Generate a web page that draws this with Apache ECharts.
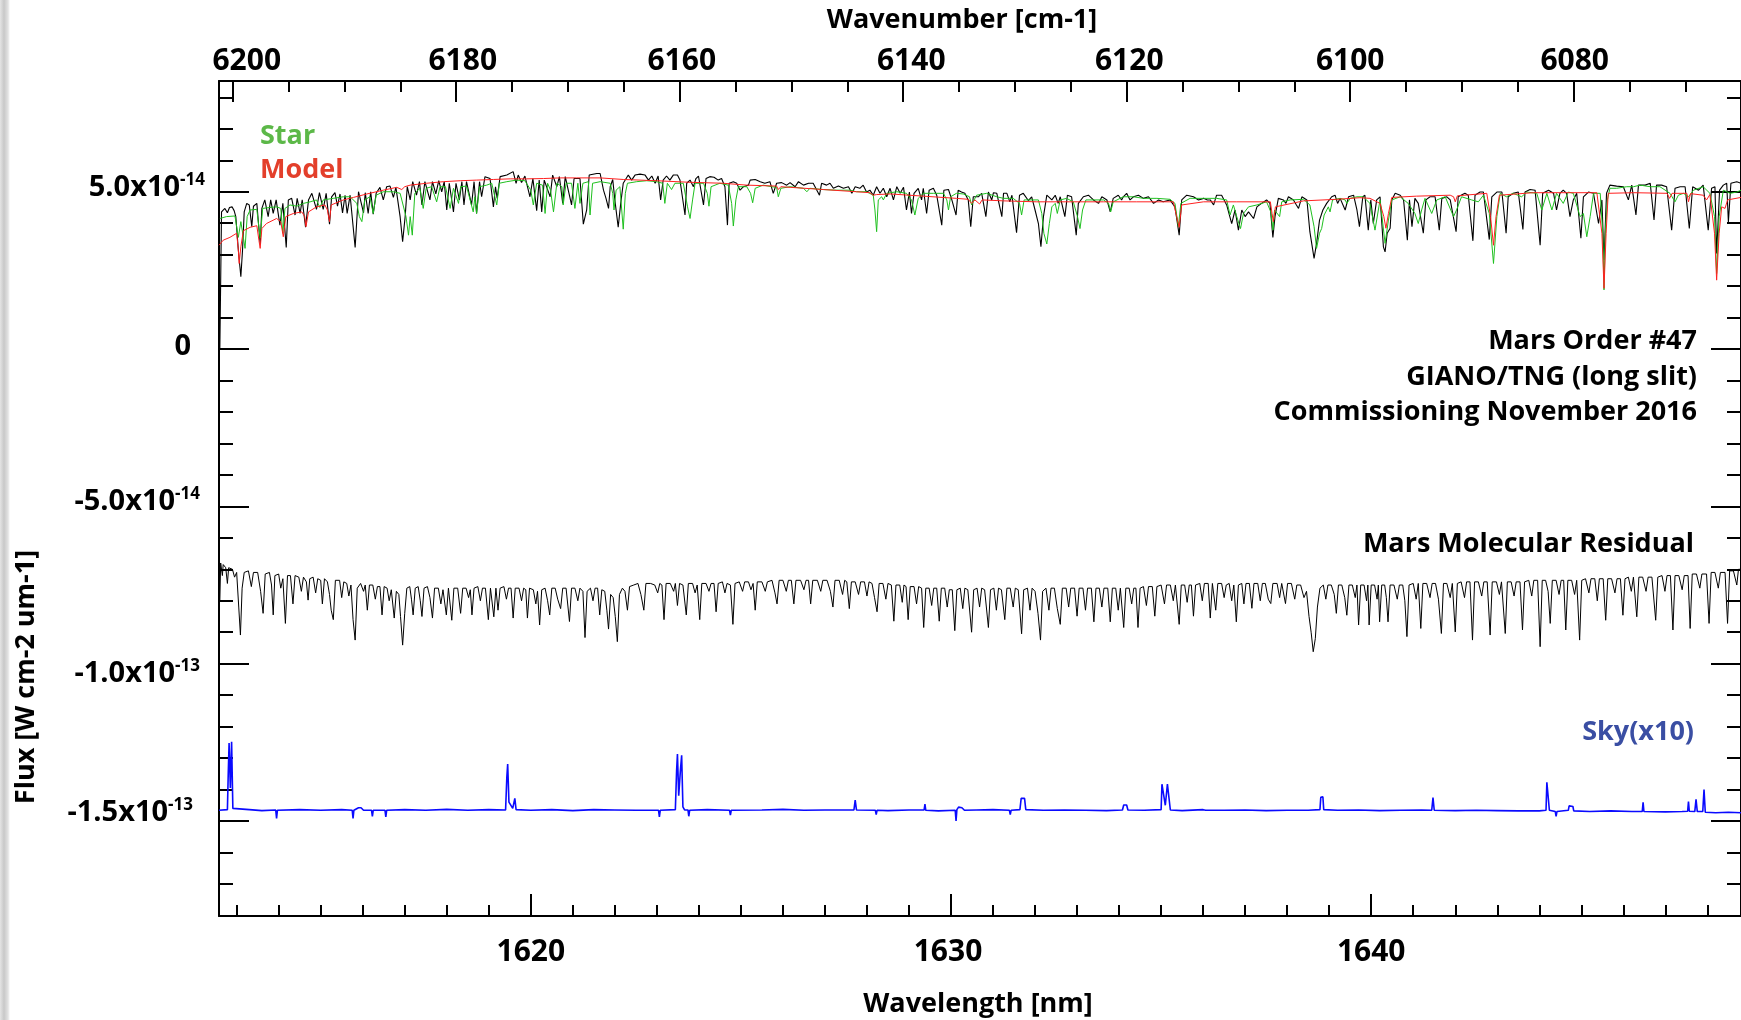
<!DOCTYPE html>
<html>
<head>
<meta charset="utf-8">
<script src="https://cdn.jsdelivr.net/npm/echarts@6/dist/echarts.min.js"></script>
<style>
html,body{margin:0;padding:0;background:#fff;}
#chart{width:1741px;height:1020px;}
</style>
</head>
<body>
<div id="chart"></div>
<script>
// ---------------- DATA ----------------
// wavelength in nm, flux in units of 1e-14 W cm-2 um-1
const wavelengthRange = [1612.58, 1648.80];
const wavenumberRange = [6065.03, 6201.23];
const fluxRange = [-18.02, 8.52];

const yTickValues   = [5, 0, -5, -10, -15];
const yTickMantissa = ['5.0x10', '0', '-5.0x10', '-1.0x10', '-1.5x10'];
const yTickExponent = ['-14', '', '-14', '-13', '-13'];
const topTickValues = [6200, 6180, 6160, 6140, 6120, 6100, 6080];
const bottomTickValues = [1620, 1630, 1640];

const seriesNames = ['Observed', 'Star', 'Model', 'Mars Molecular Residual', 'Sky(x10)'];

const observedSpectrum = [
[1612.60,0],[1612.64,4.36],[1612.72,4.47],[1612.78,4.33],[1612.83,4.50],[1612.89,4.52],[1612.94,4.40],[1612.98,4.21],[1613.04,3.15],[1613.10,2.30],[1613.14,3.15],[1613.18,4.36],[1613.24,4.63],[1613.30,4.58],[1613.36,3.89],[1613.40,4.54],[1613.48,4.63],[1613.56,3.34],[1613.60,4.47],[1613.67,4.74],[1613.75,4.21],[1613.81,4.74],[1613.87,4.31],[1613.94,4.74],[1614.03,3.94],[1614.10,4.63],[1614.18,3.23],[1614.23,4.74],[1614.31,4.79],[1614.39,4.26],[1614.44,4.79],[1614.51,4.31],[1614.56,4.74],[1614.64,3.87],[1614.71,4.74],[1614.79,4.95],[1614.90,4.44],[1614.97,4.97],[1615.06,4.44],[1615.13,4.95],[1615.21,3.97],[1615.26,4.84],[1615.34,4.97],[1615.40,4.54],[1615.46,4.93],[1615.52,4.33],[1615.58,4.89],[1615.63,4.31],[1615.70,4.89],[1615.82,3.23],[1615.90,5.00],[1616.02,4.33],[1616.06,4.97],[1616.13,4.31],[1616.19,5.00],[1616.25,4.29],[1616.32,4.95],[1616.41,5.14],[1616.49,4.74],[1616.57,5.16],[1616.65,5.18],[1616.73,4.82],[1616.79,5.14],[1616.89,4.21],[1616.95,3.41],[1617.01,4.21],[1617.06,5.16],[1617.13,4.74],[1617.19,5.32],[1617.28,4.89],[1617.35,5.32],[1617.41,4.58],[1617.48,5.32],[1617.60,4.74],[1617.66,5.32],[1617.74,4.93],[1617.81,5.35],[1617.88,5.00],[1617.94,5.32],[1618.00,4.42],[1618.06,5.27],[1618.16,4.36],[1618.22,5.27],[1618.30,4.74],[1618.36,5.32],[1618.41,4.58],[1618.47,5.32],[1618.59,4.58],[1618.65,5.32],[1618.71,4.31],[1618.78,5.32],[1618.83,4.84],[1618.91,5.48],[1619.03,5.42],[1619.11,4.52],[1619.16,5.16],[1619.20,4.79],[1619.27,5.48],[1619.43,5.53],[1619.58,5.64],[1619.65,5.27],[1619.70,5.53],[1619.78,5.29],[1619.86,5.50],[1619.98,4.84],[1620.05,5.42],[1620.14,4.40],[1620.20,5.37],[1620.26,4.36],[1620.32,5.37],[1620.46,4.84],[1620.52,5.53],[1620.62,5.16],[1620.68,5.48],[1620.76,4.63],[1620.82,5.48],[1620.97,4.58],[1621.03,5.42],[1621.17,5.42],[1621.25,3.97],[1621.33,4.42],[1621.39,5.53],[1621.57,5.58],
[1621.60,5.53],[1621.65,5.58],[1621.73,5.05],[1621.79,4.79],[1621.85,4.47],[1621.89,5.16],[1621.95,5.39],[1622.00,4.74],[1622.08,3.87],[1622.14,4.63],[1622.20,5.27],[1622.32,5.53],[1622.40,5.37],[1622.48,5.53],[1622.60,5.56],[1622.72,5.53],[1622.80,5.37],[1622.88,5.50],[1622.96,5.27],[1623.03,5.50],[1623.09,4.74],[1623.15,5.37],[1623.23,5.50],[1623.31,5.37],[1623.39,5.53],[1623.49,5.53],[1623.55,5.37],[1623.67,4.26],[1623.71,5.27],[1623.79,5.37],[1623.87,5.16],[1623.93,5.42],[1623.99,5.50],[1624.11,4.58],[1624.17,5.42],[1624.26,5.48],[1624.36,5.46],[1624.46,5.37],[1624.54,5.42],[1624.62,5.16],[1624.68,3.94],[1624.72,5.27],[1624.82,5.32],[1624.90,5.27],[1624.98,5.05],[1625.06,5.16],[1625.18,5.21],[1625.22,5.37],[1625.34,5.39],[1625.46,5.32],[1625.57,5.27],[1625.69,5.32],[1625.77,4.95],[1625.85,5.27],[1625.97,5.29],[1626.09,5.21],[1626.17,5.29],[1626.29,5.16],[1626.37,5.32],[1626.49,5.21],[1626.61,5.27],[1626.72,5.27],[1626.87,4.89],[1626.92,5.27],[1627.04,5.21],[1627.12,5.27],[1627.20,5.11],[1627.32,5.18],[1627.44,5.11],[1627.56,5.16],[1627.64,4.95],[1627.72,5.16],[1627.83,5.11],[1627.91,5.21],[1627.99,4.99],[1628.07,5.05],[1628.15,4.89],[1628.23,5.16],[1628.31,4.95],[1628.39,5.11],[1628.47,4.84],[1628.55,5.11],[1628.63,4.74],[1628.71,5.16],[1628.79,4.95],[1628.87,5.14],[1628.94,4.42],[1629.01,4.99],[1629.06,4.31],[1629.12,4.95],[1629.22,5.11],[1629.30,4.74],[1629.34,5.11],[1629.42,4.31],[1629.48,5.05],[1629.58,5.11],[1629.66,4.89],[1629.78,3.94],[1629.83,5.05],[1629.94,5.07],[1630.02,4.74],[1630.12,4.26],[1630.17,5.05],[1630.25,4.99],[1630.33,4.95],[1630.41,4.74],[1630.47,3.89],[1630.53,4.84],
[1630.57,4.89],[1630.65,4.84],[1630.73,4.95],[1630.83,4.21],[1630.89,4.99],[1630.97,4.74],[1631.01,4.97],[1631.09,4.95],[1631.21,4.21],[1631.25,4.95],[1631.33,4.95],[1631.40,4.68],[1631.45,4.89],[1631.56,3.70],[1631.63,4.89],[1631.72,4.95],[1631.84,4.72],[1631.92,4.84],[1632.00,4.42],[1632.08,3.99],[1632.14,3.25],[1632.20,4.21],[1632.28,4.89],[1632.40,4.74],[1632.48,4.89],[1632.55,4.63],[1632.60,4.84],[1632.71,4.21],[1632.77,4.89],[1632.87,4.84],[1632.98,3.62],[1633.03,4.63],[1633.15,4.84],[1633.27,4.89],[1633.39,4.74],[1633.51,4.63],[1633.59,4.84],[1633.71,4.74],[1633.79,4.36],[1633.86,4.79],[1633.98,4.89],[1634.06,4.74],[1634.10,4.84],[1634.18,4.95],[1634.26,4.74],[1634.34,4.84],[1634.46,4.89],[1634.58,4.79],[1634.70,4.84],[1634.82,4.63],[1634.94,4.74],[1635.05,4.68],[1635.21,4.74],[1635.33,4.52],[1635.43,3.62],[1635.49,4.74],[1635.61,4.89],[1635.77,4.84],[1635.89,4.74],[1636.01,4.79],[1636.10,4.74],[1636.17,4.74],[1636.25,4.58],[1636.32,4.89],[1636.44,4.89],[1636.56,4.58],[1636.68,3.99],[1636.76,4.42],[1636.84,3.78],[1636.92,4.42],[1637.00,4.21],[1637.08,4.36],[1637.20,4.15],[1637.28,4.52],[1637.39,4.63],[1637.51,4.74],[1637.59,4.63],[1637.66,3.55],[1637.71,4.21],[1637.79,4.79],[1637.91,4.74],[1637.97,4.63],[1638.03,4.84],[1638.15,4.74],[1638.22,4.58],[1638.27,4.47],[1638.35,4.84],[1638.47,4.74],[1638.54,3.73],[1638.64,2.88],[1638.70,3.36],[1638.77,4.10],[1638.85,4.42],[1638.94,4.63],[1639.06,4.84],[1639.14,4.89],[1639.20,4.63],[1639.26,4.79],[1639.38,4.42],[1639.46,4.84],[1639.58,4.89],[1639.66,4.42],[1639.72,3.89],
[1639.80,4.84],[1639.85,4.89],[1639.93,3.78],[1639.99,4.74],[1640.05,3.99],[1640.13,4.74],[1640.21,4.84],[1640.29,3.25],[1640.33,3.09],[1640.38,3.68],[1640.45,3.84],[1640.49,4.74],[1640.57,4.95],[1640.69,4.89],[1640.77,4.74],[1640.86,3.46],[1640.91,4.74],[1640.97,3.89],[1641.04,4.79],[1641.12,4.63],[1641.24,3.68],[1641.30,4.74],[1641.40,4.84],[1641.52,4.84],[1641.62,3.78],[1641.68,4.79],[1641.80,4.84],[1641.88,4.74],[1642.02,3.73],[1642.07,4.84],[1642.23,4.95],[1642.31,4.89],[1642.42,3.44],[1642.47,4.89],[1642.59,4.99],[1642.67,4.99],[1642.81,3.48],[1642.87,4.84],[1642.99,4.99],[1643.11,4.99],[1643.21,3.68],[1643.26,4.84],[1643.38,4.95],[1643.50,4.99],[1643.61,3.80],[1643.66,4.99],[1643.78,5.07],[1643.90,5.05],[1644.02,3.30],[1644.08,4.95],[1644.22,5.05],[1644.34,4.95],[1644.41,4.42],[1644.49,4.95],[1644.57,5.05],[1644.65,4.95],[1644.73,4.21],[1644.81,4.74],[1644.89,4.95],[1644.99,3.52],[1645.05,4.84],[1645.17,4.99],[1645.29,4.95],[1645.41,3.99],[1645.49,4.74],[1645.54,2.83],[1645.60,4.95],[1645.68,5.21],[1645.84,5.18],[1646.00,5.16],[1646.12,4.74],[1646.20,5.21],[1646.30,4.26],[1646.36,5.21],[1646.52,5.21],[1646.64,5.27],[1646.73,4.10],[1646.79,5.21],[1646.91,5.21],[1647.03,5.16],[1647.15,3.78],[1647.23,5.11],[1647.35,5.16],[1647.47,5.16],[1647.57,3.83],[1647.65,5.16],[1647.79,5.05],[1647.90,5.21],[1648.02,3.78],[1648.10,5.11],[1648.18,5.16],[1648.22,3.04],[1648.29,5.05],[1648.38,5.21],[1648.46,5.27],[1648.50,4.04],[1648.56,5.27],[1648.70,5.32],[1648.80,5.27]
];

const starSpectrum = [
[1612.60,4.15],[1612.76,4.21],[1612.96,4.23],[1613.04,3.55],[1613.10,4.05],[1613.20,3.20],[1613.25,4.21],[1613.32,4.42],[1613.48,4.44],[1613.56,3.52],[1613.62,4.47],[1613.79,4.50],[1613.95,4.52],[1614.05,4.47],[1614.10,3.68],[1614.15,4.47],[1614.27,4.58],[1614.43,4.54],[1614.59,4.63],[1614.75,4.68],[1614.90,4.74],[1614.98,4.50],[1615.06,4.74],[1615.30,4.79],[1615.54,4.84],[1615.70,4.84],[1615.86,4.63],[1615.92,4.21],[1615.98,4.05],[1616.05,4.74],[1616.17,4.84],[1616.25,4.31],[1616.32,4.89],[1616.49,5.00],[1616.73,5.00],[1616.89,4.95],[1617.03,4.21],[1617.09,3.62],[1617.13,4.21],[1617.18,3.62],[1617.24,4.95],[1617.36,5.11],[1617.44,4.47],[1617.51,5.11],[1617.64,5.16],[1617.76,4.68],[1617.84,5.16],[1617.97,5.16],[1618.08,4.47],[1618.16,5.11],[1618.28,4.63],[1618.33,5.16],[1618.47,5.18],[1618.63,4.36],[1618.67,4.84],[1618.71,4.31],[1618.78,5.16],[1618.95,5.21],[1619.07,5.27],[1619.19,4.58],[1619.25,5.27],[1619.43,5.32],[1619.66,5.37],[1619.86,5.35],[1620.00,5.05],[1620.06,4.58],[1620.14,5.27],[1620.28,5.21],[1620.34,4.31],[1620.40,5.27],[1620.47,5.05],[1620.54,4.36],[1620.62,5.27],[1620.74,5.16],[1620.77,4.58],[1620.84,5.27],[1620.97,5.27],[1621.05,4.47],[1621.12,5.27],[1621.17,4.63],[1621.24,5.27],[1621.37,5.32],
[1621.41,4.26],[1621.47,5.27],[1621.65,5.32],[1621.89,5.27],[1621.95,4.95],[1621.98,4.42],[1622.03,5.05],[1622.12,5.16],[1622.20,3.81],[1622.25,4.95],[1622.30,5.27],[1622.52,5.32],[1622.76,5.35],[1622.99,5.32],[1623.14,5.27],[1623.19,4.63],[1623.25,5.27],[1623.35,5.07],[1623.43,5.27],[1623.63,5.27],[1623.73,4.52],[1623.79,4.15],[1623.85,4.74],[1623.91,5.27],[1624.11,5.27],[1624.20,4.95],[1624.24,4.54],[1624.29,5.16],[1624.50,5.27],[1624.70,5.21],[1624.78,4.63],[1624.82,3.91],[1624.88,4.74],[1624.94,5.16],[1625.14,5.16],[1625.23,4.95],[1625.28,4.65],[1625.34,5.11],[1625.53,5.21],[1625.73,5.16],[1625.85,5.14],[1625.89,4.84],[1625.95,5.11],[1626.17,5.16],[1626.49,5.11],[1626.57,5.00],[1626.64,5.11],[1626.96,5.07],[1627.28,5.05],[1627.60,5.05],[1627.75,5.00],[1627.99,5.00],[1628.15,4.89],[1628.19,4.42],[1628.23,3.73],[1628.27,4.74],[1628.35,4.84],[1628.39,4.74],[1628.47,4.95],[1628.71,5.00],[1628.94,4.95],[1629.06,4.74],[1629.14,4.26],[1629.22,4.79],[1629.34,4.95],[1629.58,4.95],[1629.82,4.95],[1629.90,4.74],[1629.94,4.42],[1629.99,4.84],[1630.13,4.95],[1630.29,4.93],[1630.44,4.84],[1630.49,4.58],[1630.55,4.74],
[1630.61,4.89],[1630.85,4.95],[1631.09,4.84],[1631.25,4.79],[1631.48,4.79],[1631.63,4.63],[1631.68,4.26],[1631.74,4.74],[1631.88,4.74],[1632.08,4.74],[1632.16,4.31],[1632.21,3.68],[1632.28,3.34],[1632.34,3.99],[1632.40,4.52],[1632.48,4.63],[1632.53,4.31],[1632.60,4.74],[1632.75,4.79],[1632.91,4.68],[1633.01,4.21],[1633.07,3.83],[1633.13,4.42],[1633.21,4.74],[1633.39,4.74],[1633.63,4.74],[1633.75,4.63],[1633.80,4.36],[1633.86,4.68],[1634.10,4.84],[1634.34,4.84],[1634.58,4.79],[1634.90,4.79],[1635.21,4.76],[1635.33,4.63],[1635.41,3.89],[1635.47,4.63],[1635.69,4.79],[1636.01,4.79],[1636.32,4.79],[1636.56,4.74],[1636.64,4.26],[1636.72,4.58],[1636.80,4.21],[1636.89,3.83],[1636.96,4.31],[1637.08,4.52],[1637.28,4.58],[1637.51,4.68],[1637.61,4.36],[1637.66,3.78],[1637.70,4.42],[1637.82,4.21],[1637.87,4.68],[1638.07,4.74],[1638.39,4.76],[1638.54,4.58],[1638.64,3.89],[1638.70,3.20],[1638.77,3.68],[1638.82,3.83],[1638.88,4.26],[1638.98,4.52],[1639.02,4.36],[1639.08,4.74],[1639.26,4.79],[1639.38,4.74],[1639.42,4.63],[1639.50,4.79],
[1639.66,4.84],[1639.81,4.84],[1639.97,4.63],[1640.09,3.78],[1640.21,4.74],[1640.33,3.36],[1640.41,4.10],[1640.49,4.74],[1640.69,4.84],[1640.88,4.63],[1641.04,4.31],[1641.12,3.99],[1641.20,4.42],[1641.28,4.79],[1641.44,4.31],[1641.56,4.74],[1641.76,4.84],[1641.96,4.21],[1642.03,4.42],[1642.15,4.84],[1642.39,4.74],[1642.55,4.68],[1642.67,4.89],[1642.81,4.31],[1642.91,2.72],[1642.99,4.21],[1643.07,4.95],[1643.22,4.84],[1643.38,4.95],[1643.58,4.84],[1643.70,4.99],[1643.94,4.95],[1644.06,4.42],[1644.18,4.95],[1644.30,4.42],[1644.41,4.95],[1644.57,4.63],[1644.69,4.99],[1644.81,4.95],[1644.97,4.21],[1645.05,4.31],[1645.13,3.57],[1645.21,4.21],[1645.29,4.95],[1645.45,4.95],[1645.51,3.68],[1645.54,1.88],[1645.57,3.68],[1645.62,4.74],[1645.68,5.11],[1645.84,5.11],[1646.08,5.16],[1646.24,5.16],[1646.40,5.21],[1646.64,5.16],[1646.87,5.16],[1647.11,4.95],[1647.23,4.68],[1647.31,4.89],[1647.43,4.95],[1647.55,4.84],[1647.67,5.05],[1647.90,5.16],[1648.06,4.95],[1648.17,4.21],[1648.22,2.40],[1648.28,4.21],[1648.38,5.05],[1648.54,4.95],[1648.70,4.99],[1648.80,5.05]
];

const modelSpectrum = [
[1612.58,3.30],[1612.68,3.46],[1612.84,3.55],[1613.00,3.68],[1613.04,3.15],[1613.06,2.72],[1613.10,3.25],[1613.16,3.76],[1613.32,3.87],[1613.48,3.92],[1613.53,3.46],[1613.56,3.20],[1613.60,3.83],[1613.71,3.99],[1613.95,4.15],[1614.05,4.05],[1614.11,3.57],[1614.17,4.21],[1614.35,4.31],[1614.55,4.36],[1614.62,4.21],[1614.65,3.89],[1614.71,4.36],[1614.90,4.52],[1615.10,4.58],[1615.16,4.42],[1615.21,4.05],[1615.25,4.58],[1615.54,4.74],[1615.78,4.82],[1616.10,4.93],[1616.49,5.05],[1616.81,5.14],[1616.93,5.07],[1617.00,5.16],[1617.13,5.21],[1617.52,5.27],[1617.92,5.32],[1618.32,5.35],[1618.71,5.37],[1619.11,5.39],[1619.51,5.41],[1619.90,5.41],[1620.30,5.42],[1620.70,5.44],[1621.09,5.44],[1621.65,5.44],[1622.20,5.39],[1622.99,5.35],[1623.79,5.30],[1624.58,5.27],[1625.14,5.21],[1625.85,5.18],[1625.89,5.07],[1625.95,5.16],[1626.17,5.14],[1626.96,5.07],[1627.75,5.00],[1628.07,4.97],[1628.15,4.89],[1628.23,4.91],[1628.55,4.93],[1629.34,4.86],[1630.13,4.79],[1630.41,4.76],[1630.49,4.63],[1630.57,4.74],[1630.61,4.74],[1630.68,4.61],[1630.74,4.74],[1631.25,4.71],[1632.04,4.68],[1632.83,4.68],[1633.63,4.68],[1634.42,4.68],[1635.29,4.68],[1635.37,4.21],[1635.43,3.87],[1635.49,4.58],[1636.01,4.68],[1636.80,4.68],[1637.60,4.68],[1637.64,4.31],[1637.67,4.05],[1637.72,4.52],[1638.39,4.71],[1639.18,4.76],[1639.73,4.81],[1639.97,4.79],[1640.21,4.63],[1640.30,4.21],[1640.35,3.84],[1640.41,4.31],[1640.49,4.82],[1641.08,4.86],[1641.88,4.89],[1641.96,4.84],[1642.00,4.68],[1642.05,4.87],[1642.75,4.95],[1642.84,4.21],[1642.91,3.30],[1642.97,4.21],[1643.05,4.89],[1643.86,4.97],[1644.65,4.97],[1645.37,4.97],[1645.49,3.68],[1645.54,1.93],[1645.59,3.68],[1645.64,4.95],[1646.24,4.97],[1647.04,4.95],[1647.10,4.79],[1647.16,4.95],[1647.51,4.95],[1647.55,4.68],[1647.60,4.94],[1647.90,4.89],[1647.98,4.74],[1648.06,4.91],[1648.17,3.68],[1648.22,2.19],[1648.28,3.68],[1648.34,4.52],[1648.42,4.47],[1648.48,4.74],[1648.80,4.82]
];

const residualSpectrum = [
[1612.60,-8.0],[1612.62,-6.80],[1612.66,-7.20],[1612.68,-6.85],[1612.74,-6.95],[1612.78,-7.45],[1612.81,-6.95],[1612.90,-7.0],[1612.95,-7.25],[1613.00,-7.1],[1613.05,-8.2],[1613.09,-9.09],[1613.13,-7.6],[1613.18,-7.1],[1613.28,-7.05],[1613.35,-7.55],[1613.40,-7.1],[1613.50,-7.1],[1613.57,-7.7],[1613.63,-8.40],[1613.68,-7.15],[1613.78,-7.1],[1613.83,-7.5],[1613.87,-8.45],[1613.91,-7.2],[1614.00,-7.15],[1614.05,-7.6],[1614.10,-7.3],[1614.16,-8.72],[1614.21,-7.2],[1614.28,-7.2],[1614.34,-8.10],[1614.39,-7.2],[1614.48,-7.25],[1614.54,-7.7],[1614.59,-7.25],[1614.66,-7.4],[1614.70,-7.98],[1614.74,-7.3],[1614.82,-7.25],[1614.88,-7.75],[1614.93,-7.3],[1615.00,-7.35],[1615.04,-8.10],[1615.09,-7.3],[1615.16,-7.4],[1615.21,-7.8],[1615.25,-8.30],[1615.30,-8.6],[1615.35,-7.35],[1615.45,-7.35],[1615.50,-7.9],[1615.55,-7.4],[1615.62,-7.45],[1615.67,-7.85],[1615.72,-7.5],[1615.77,-8.6],[1615.82,-9.25],[1615.87,-7.6],[1615.95,-7.45],[1616.02,-7.7],[1616.06,-7.5],[1616.11,-8.30],[1616.16,-7.5],[1616.24,-7.5],[1616.30,-7.95],[1616.35,-7.55],[1616.41,-7.55],[1616.46,-8.45],[1616.51,-7.55],[1616.58,-7.6],[1616.63,-8.0],[1616.68,-7.65],[1616.75,-8.55],[1616.80,-7.7],[1616.86,-7.8],[1616.90,-8.5],[1616.95,-9.41],[1617.00,-8.4],[1617.05,-7.6],[1617.12,-7.55],[1617.16,-7.95],[1617.20,-8.45],[1617.25,-7.6],[1617.32,-7.55],[1617.37,-8.0],[1617.41,-8.5],[1617.46,-7.6],[1617.54,-7.55],[1617.60,-7.9],[1617.66,-8.55],[1617.71,-7.6],[1617.80,-7.6],[1617.86,-8.1],[1617.91,-7.65],[1617.99,-8.45],[1618.04,-7.6],[1618.12,-8.62],[1618.17,-7.6],[1618.26,-7.6],[1618.33,-8.40],[1618.38,-7.6],[1618.46,-7.6],[1618.52,-7.9],[1618.56,-7.65],[1618.60,-8.45],[1618.65,-7.6],[1618.74,-7.55],[1618.80,-8.0],[1618.85,-7.6],[1618.92,-7.6],[1618.99,-8.60],[1619.04,-7.6],[1619.12,-8.51],[1619.17,-7.6],[1619.22,-8.3],[1619.27,-7.6],[1619.36,-7.55],[1619.42,-7.95],[1619.47,-7.6],[1619.53,-7.6],[1619.58,-8.55],[1619.63,-7.6],[1619.72,-7.6],[1619.78,-8.0],[1619.83,-7.6],[1619.88,-7.65],[1619.92,-8.55],[1619.97,-7.6],[1620.06,-7.65],[1620.12,-8.1],[1620.16,-7.7],[1620.21,-8.77],[1620.26,-7.65],[1620.34,-7.6],[1620.40,-8.0],[1620.45,-8.45],[1620.50,-7.6],[1620.58,-7.6],[1620.64,-7.95],[1620.71,-8.25],[1620.76,-7.6],[1620.84,-7.6],[1620.92,-8.66],[1620.97,-7.6],[1621.05,-7.6],[1621.12,-8.0],[1621.17,-7.6],[1621.24,-7.7],[1621.29,-9.17],[1621.34,-7.7],[1621.42,-7.6],[1621.48,-8.0],[1621.53,-7.6],[1621.59,-7.6],[1621.64,-8.45],[1621.69,-7.65],[1621.76,-7.7],[1621.81,-8.3],[1621.85,-8.9],[1621.90,-7.8],[1621.96,-7.9],[1622.01,-8.5],[1622.06,-9.30],[1622.11,-7.8],[1622.18,-7.6],[1622.24,-7.7],[1622.30,-8.30],[1622.35,-7.55],
[1622.45,-7.5],[1622.55,-7.45],[1622.62,-7.8],[1622.69,-8.30],[1622.74,-7.45],[1622.85,-7.45],[1622.95,-7.5],[1623.02,-7.75],[1623.07,-7.45],[1623.12,-7.5],[1623.17,-8.60],[1623.22,-7.45],[1623.32,-7.45],[1623.40,-7.7],[1623.44,-7.45],[1623.49,-8.15],[1623.54,-7.45],[1623.62,-7.5],[1623.70,-8.45],[1623.75,-7.45],[1623.85,-7.45],[1623.91,-7.75],[1623.96,-7.5],[1624.02,-8.60],[1624.07,-7.45],[1624.17,-7.45],[1624.24,-7.7],[1624.29,-7.45],[1624.36,-7.45],[1624.41,-8.35],[1624.46,-7.45],[1624.56,-7.4],[1624.62,-7.75],[1624.67,-7.45],[1624.75,-7.5],[1624.81,-8.75],[1624.86,-7.45],[1624.96,-7.4],[1625.04,-7.7],[1625.09,-7.4],[1625.18,-7.4],[1625.24,-7.65],[1625.29,-7.45],[1625.34,-8.30],[1625.39,-7.4],[1625.50,-7.4],[1625.58,-7.7],[1625.63,-7.4],[1625.74,-7.35],[1625.81,-7.75],[1625.86,-8.10],[1625.91,-7.35],[1626.00,-7.35],[1626.08,-7.7],[1626.13,-7.35],[1626.20,-7.35],[1626.26,-8.10],[1626.31,-7.35],[1626.42,-7.35],[1626.50,-7.65],[1626.55,-7.35],[1626.61,-7.35],[1626.66,-8.10],[1626.71,-7.35],[1626.82,-7.35],[1626.90,-7.7],[1626.95,-7.35],[1627.05,-7.35],[1627.13,-7.7],[1627.19,-8.20],[1627.24,-7.35],[1627.34,-7.35],[1627.42,-7.8],[1627.47,-7.35],[1627.52,-7.4],[1627.58,-8.25],[1627.63,-7.4],[1627.72,-7.4],[1627.80,-7.8],[1627.85,-7.4],[1627.94,-7.4],[1628.00,-7.85],[1628.05,-7.4],[1628.12,-7.45],[1628.18,-7.9],[1628.24,-8.35],[1628.29,-7.45],[1628.38,-7.45],[1628.45,-7.95],[1628.50,-7.45],[1628.58,-7.5],[1628.64,-8.65],[1628.69,-7.5],[1628.78,-7.5],[1628.84,-8.05],[1628.88,-7.5],[1628.93,-7.55],[1628.98,-8.60],[1629.03,-7.55],[1629.12,-7.55],[1629.18,-8.1],[1629.23,-7.55],[1629.30,-7.6],[1629.35,-8.85],[1629.40,-7.6],[1629.48,-7.6],[1629.54,-8.15],[1629.59,-7.6],[1629.66,-7.6],[1629.72,-8.65],[1629.77,-7.6],[1629.85,-7.6],[1629.91,-8.2],[1629.96,-7.65],[1630.03,-7.65],[1630.09,-8.95],[1630.14,-7.65],[1630.22,-7.6],[1630.28,-8.25],[1630.33,-7.6],[1630.40,-7.65],[1630.49,-9.00],[1630.54,-7.65],[1630.62,-7.6],[1630.68,-8.2],[1630.73,-7.6],[1630.80,-7.65],[1630.89,-8.85],[1630.94,-7.65],[1631.02,-7.6],[1631.08,-8.3],[1631.13,-7.6],[1631.20,-7.65],[1631.28,-8.60],[1631.33,-7.6],[1631.41,-7.6],[1631.48,-8.2],[1631.53,-7.6],[1631.60,-7.65],[1631.68,-9.05],[1631.73,-7.65],[1631.82,-7.6],[1631.88,-8.3],[1631.93,-7.6],[1632.00,-7.7],[1632.07,-8.4],[1632.13,-9.25],[1632.18,-7.7],[1632.26,-7.6],[1632.33,-8.3],[1632.38,-7.6],[1632.46,-7.6],[1632.53,-8.25],[1632.60,-8.75],[1632.65,-7.6],[1632.74,-7.6],[1632.80,-8.2],[1632.85,-7.6],[1632.94,-7.6],[1633.00,-8.49],[1633.05,-7.6],[1633.14,-7.6],[1633.20,-8.3],[1633.25,-7.6],[1633.34,-7.6],[1633.40,-8.67],[1633.45,-7.6],[1633.53,-7.6],[1633.59,-8.2],[1633.64,-7.6],[1633.73,-7.6],[1633.79,-8.67],[1633.84,-7.6],[1633.92,-7.6],[1633.98,-8.3],[1634.03,-7.6],[1634.06,-7.6],[1634.11,-8.85],[1634.16,-7.6],[1634.24,-7.6],[1634.30,-8.1],[1634.35,-7.6],[1634.40,-7.6],[1634.45,-8.85],[1634.50,-7.6],[1634.58,-7.55],[1634.65,-8.15],[1634.70,-7.55],[1634.79,-7.55],[1634.85,-8.49],[1634.90,-7.55],[1635.00,-7.5],[1635.08,-8.1],[1635.13,-7.5],[1635.22,-7.5],[1635.29,-8.0],[1635.34,-7.5],[1635.38,-7.5],[1635.43,-8.75],[1635.48,-7.5],[1635.56,-7.5],[1635.62,-8.05],[1635.67,-7.5],[1635.72,-7.5],[1635.77,-8.49],[1635.82,-7.5],[1635.92,-7.45],[1635.98,-8.0],[1636.03,-7.45],[1636.12,-7.45],[1636.17,-8.55],[1636.22,-7.45],
[1636.26,-7.45],[1636.30,-8.30],[1636.35,-7.45],[1636.44,-7.45],[1636.50,-7.9],[1636.55,-7.5],[1636.62,-7.45],[1636.68,-8.0],[1636.73,-7.5],[1636.79,-8.67],[1636.84,-7.5],[1636.92,-7.45],[1636.97,-8.1],[1637.02,-7.45],[1637.10,-7.45],[1637.16,-8.24],[1637.21,-7.45],[1637.30,-7.45],[1637.36,-8.0],[1637.41,-7.45],[1637.48,-7.45],[1637.55,-7.95],[1637.61,-8.09],[1637.66,-7.45],[1637.76,-7.45],[1637.82,-7.9],[1637.87,-7.45],[1637.91,-7.45],[1637.96,-8.09],[1638.01,-7.45],[1638.10,-7.45],[1638.18,-7.95],[1638.23,-7.5],[1638.32,-7.5],[1638.40,-7.9],[1638.46,-7.7],[1638.52,-8.5],[1638.57,-9.0],[1638.62,-9.62],[1638.67,-9.2],[1638.72,-8.2],[1638.78,-7.6],[1638.86,-7.5],[1638.92,-7.95],[1638.97,-7.5],[1639.05,-7.5],[1639.12,-7.8],[1639.17,-8.40],[1639.22,-7.5],[1639.30,-7.5],[1639.37,-7.9],[1639.42,-8.46],[1639.47,-7.5],[1639.55,-7.5],[1639.62,-7.9],[1639.66,-7.5],[1639.70,-8.77],[1639.75,-7.5],[1639.83,-7.5],[1639.89,-8.0],[1639.92,-7.5],[1639.95,-8.77],[1640.00,-7.5],[1640.08,-7.5],[1640.14,-7.95],[1640.17,-7.5],[1640.20,-8.67],[1640.25,-7.5],[1640.32,-7.5],[1640.36,-7.9],[1640.40,-8.67],[1640.45,-7.5],[1640.54,-7.5],[1640.62,-7.95],[1640.67,-7.5],[1640.75,-7.5],[1640.80,-8.0],[1640.85,-9.14],[1640.90,-7.5],[1641.00,-7.45],[1641.07,-7.95],[1641.12,-7.45],[1641.18,-8.88],[1641.23,-7.45],[1641.32,-7.45],[1641.40,-7.9],[1641.45,-7.45],[1641.53,-7.45],[1641.60,-7.95],[1641.67,-9.04],[1641.72,-7.45],[1641.80,-7.45],[1641.88,-7.9],[1641.93,-7.45],[1642.00,-8.99],[1642.05,-7.45],[1642.14,-7.4],[1642.22,-7.9],[1642.27,-7.4],[1642.35,-7.4],[1642.41,-9.25],[1642.46,-7.4],[1642.55,-7.4],[1642.63,-7.85],[1642.68,-7.4],[1642.76,-7.4],[1642.83,-9.09],[1642.88,-7.4],[1642.98,-7.4],[1643.05,-7.8],[1643.10,-7.4],[1643.19,-9.04],[1643.24,-7.4],[1643.33,-7.4],[1643.40,-7.85],[1643.45,-7.4],[1643.54,-7.4],[1643.60,-8.93],[1643.65,-7.4],[1643.75,-7.35],[1643.82,-7.85],[1643.87,-7.35],[1643.96,-7.35],[1644.02,-9.46],[1644.07,-7.35],[1644.15,-7.35],[1644.21,-7.7],[1644.26,-8.72],[1644.31,-7.35],[1644.40,-7.35],[1644.47,-7.8],[1644.52,-7.35],[1644.58,-7.35],[1644.63,-8.93],[1644.68,-7.35],[1644.77,-7.35],[1644.84,-7.8],[1644.89,-7.35],[1644.96,-9.25],[1645.01,-7.35],[1645.10,-7.3],[1645.18,-7.75],[1645.23,-7.3],[1645.32,-7.3],[1645.38,-8.0],[1645.43,-7.3],[1645.52,-7.3],[1645.58,-8.62],[1645.63,-7.3],[1645.72,-7.3],[1645.80,-7.75],[1645.85,-7.3],[1645.93,-7.3],[1645.99,-8.46],[1646.04,-7.3],[1646.12,-7.25],[1646.19,-7.7],[1646.24,-7.25],[1646.32,-8.51],[1646.37,-7.25],[1646.46,-7.25],[1646.54,-7.7],[1646.59,-7.25],[1646.68,-7.25],[1646.77,-8.62],[1646.82,-7.25],[1646.92,-7.2],[1646.99,-7.7],[1647.04,-7.2],[1647.12,-7.2],[1647.18,-8.93],[1647.23,-7.2],[1647.32,-7.2],[1647.40,-7.65],[1647.45,-7.2],[1647.54,-7.2],[1647.59,-8.88],[1647.64,-7.15],[1647.74,-7.15],[1647.82,-7.6],[1647.87,-7.15],[1647.98,-7.15],[1648.04,-8.72],[1648.09,-7.1],[1648.18,-7.1],[1648.26,-7.6],[1648.31,-7.1],[1648.42,-7.1],[1648.48,-8.72],[1648.53,-7.05],[1648.62,-7.05],[1648.70,-7.5],[1648.74,-7.0],[1648.80,-7.0]
];

const skySpectrum = [
[1612.58,-14.66],[1612.78,-14.64],[1612.80,-13.50],[1612.82,-12.52],[1612.85,-13.95],[1612.88,-12.48],[1612.91,-14.60],[1612.95,-14.66],[1613.30,-14.64],[1613.60,-14.67],[1613.93,-14.65],[1613.95,-14.92],[1613.97,-14.66],[1614.50,-14.64],[1615.00,-14.66],[1615.50,-14.64],[1615.75,-14.66],[1615.77,-14.92],[1615.79,-14.66],[1615.90,-14.58],[1615.96,-14.58],[1616.02,-14.66],[1616.21,-14.66],[1616.23,-14.85],[1616.25,-14.66],[1616.53,-14.66],[1616.55,-14.87],[1616.57,-14.66],[1617.00,-14.64],[1617.50,-14.66],[1618.00,-14.63],[1618.50,-14.66],[1619.00,-14.64],[1619.40,-14.65],[1619.43,-13.60],[1619.45,-13.19],[1619.48,-14.40],[1619.57,-14.60],[1619.62,-14.28],[1619.65,-14.64],[1620.00,-14.66],[1620.50,-14.64],[1621.00,-14.67],[1621.50,-14.64],[1622.00,-14.65],[1622.50,-14.66],[1623.04,-14.66],[1623.06,-14.87],[1623.08,-14.66],[1623.44,-14.64],[1623.47,-13.40],[1623.49,-12.87],[1623.52,-14.20],[1623.56,-13.40],[1623.59,-12.91],[1623.62,-14.55],[1623.66,-14.65],[1623.74,-14.65],[1623.76,-14.85],[1623.78,-14.66],[1624.20,-14.64],[1624.73,-14.66],[1624.75,-14.81],[1624.77,-14.66],[1625.50,-14.65],[1626.00,-14.63],[1626.50,-14.66],[1627.00,-14.65],[1627.69,-14.65],[1627.72,-14.34],[1627.75,-14.65],[1628.20,-14.66],[1628.22,-14.80],[1628.24,-14.66],[1628.50,-14.67],[1629.00,-14.65],[1629.36,-14.65],[1629.38,-14.46],[1629.40,-14.66],[1629.70,-14.68],[1630.10,-14.66],[1630.12,-15.00],[1630.14,-14.64],[1630.18,-14.56],[1630.26,-14.58],[1630.32,-14.66],[1630.60,-14.65],[1631.00,-14.64],[1631.39,-14.66],[1631.41,-14.80],[1631.43,-14.66],[1631.64,-14.64],[1631.67,-14.28],[1631.75,-14.28],[1631.78,-14.64],[1632.20,-14.66],[1632.70,-14.65],[1633.20,-14.66],[1633.70,-14.67],[1634.08,-14.65],[1634.11,-14.49],[1634.18,-14.49],[1634.21,-14.65],[1634.60,-14.66],[1635.00,-14.64],[1635.02,-13.83],[1635.06,-13.83],[1635.10,-14.50],[1635.15,-13.83],[1635.19,-13.83],[1635.22,-14.65],[1635.50,-14.67],[1636.00,-14.64],[1636.03,-14.58],[1636.06,-14.66],[1636.50,-14.66],[1637.00,-14.65],[1637.50,-14.67],[1638.00,-14.66],[1638.50,-14.66],[1638.78,-14.64],[1638.80,-14.25],[1638.85,-14.23],[1638.87,-14.64],[1639.20,-14.66],[1639.70,-14.65],[1640.20,-14.67],[1640.70,-14.66],[1641.20,-14.65],[1641.44,-14.66],[1641.47,-14.26],[1641.50,-14.66],[1642.00,-14.67],[1642.50,-14.66],[1643.00,-14.67],[1643.50,-14.68],[1644.00,-14.68],[1644.16,-14.66],[1644.18,-13.77],[1644.22,-13.75],[1644.24,-14.66],[1644.38,-14.70],[1644.40,-14.85],[1644.42,-14.70],[1644.69,-14.66],[1644.71,-14.52],[1644.80,-14.54],[1644.82,-14.68],[1645.20,-14.70],[1645.70,-14.68],[1646.20,-14.70],[1646.45,-14.70],[1646.47,-14.41],[1646.49,-14.70],[1647.00,-14.71],[1647.40,-14.70],[1647.53,-14.69],[1647.55,-14.38],[1647.57,-14.69],[1647.70,-14.70],[1647.73,-14.31],[1647.76,-14.70],[1647.89,-14.70],[1647.92,-14.00],[1647.95,-14.72],[1648.20,-14.74],[1648.50,-14.72],[1648.80,-14.74]
];

// ---------------- CHART ----------------
const FONT = '"Open Sans", "Liberation Sans", sans-serif';
const near = (a, b, eps) => Math.abs(a - b) < (eps || 1e-6);

const txt = (size) => ({ fontFamily: FONT, fontWeight: 'bold', fontSize: size, color: '#000' });

// y-axis label styles (vertical nudges and right padding per label)
const yLabelShift = [-4, -2, -5, 10, -8];
const yLabelPadRight = [0, 14, 5, 5, 12];
const yRich = {};
yTickValues.forEach((v, i) => {
  yRich['m' + i] = Object.assign(txt(29), { lineHeight: 32 });
  yRich['e' + i] = Object.assign(txt(17), { lineHeight: 19, verticalAlign: 'top', padding: [0, yLabelPadRight[i], 0, 0] });
  yRich['z' + i] = Object.assign(txt(29), { lineHeight: 32, padding: [0, yLabelPadRight[i], 0, 0] });
  yRich['s' + i] = { fontSize: 1, lineHeight: Math.abs(yLabelShift[i]) * 2, height: Math.abs(yLabelShift[i]) * 2 };
});
function yLabel(v) {
  const i = yTickValues.findIndex(t => near(t, v));
  if (i < 0) return '';
  const body = yTickExponent[i]
    ? '{m' + i + '|' + yTickMantissa[i] + '}{e' + i + '|' + yTickExponent[i] + '}'
    : '{z' + i + '|' + yTickMantissa[i] + '}';
  const sp = '{s' + i + '| }';
  return yLabelShift[i] < 0 ? body + '\n' + sp : sp + '\n' + body;
}

const topNudge = [28, 13, 4, 16, 5, 0, 2];
const topRich = {};
topTickValues.forEach((v, i) => { topRich['t' + i] = Object.assign(txt(30), { padding: [0, 0, 0, topNudge[i]] }); });
const bottomNudge = [0, 6, 0];
const bottomRich = {};
bottomTickValues.forEach((v, i) => { bottomRich['b' + i] = Object.assign(txt(30), { padding: [0, bottomNudge[i], 0, 0] }); });

const axisBase = {
  type: 'value',
  splitLine: { show: false },
  axisLine: { show: true, onZero: false, lineStyle: { color: '#000', width: 2 } },
  axisTick: { show: true, inside: true, lineStyle: { color: '#000', width: 2 } },
  minorTick: { show: true, lineStyle: { color: '#000', width: 2 } }
};

const option = {
  animation: false,
  backgroundColor: '#ffffff',
  grid: { left: 219, right: 0, top: 81, bottom: 104, containLabel: false },
  xAxis: [
    Object.assign({}, axisBase, {
      position: 'bottom',
      min: wavelengthRange[0], max: wavelengthRange[1], splitNumber: 4,
      axisTick: Object.assign({}, axisBase.axisTick, { length: 22 }),
      minorTick: Object.assign({}, axisBase.minorTick, { splitNumber: 10, length: 11 }),
      axisLabel: Object.assign(txt(30), {
        margin: 21, showMinLabel: false, showMaxLabel: false, rich: bottomRich,
        formatter: v => { const i = bottomTickValues.findIndex(t => near(t, v)); return i < 0 ? '' : '{b' + i + '|' + bottomTickValues[i] + '}'; }
      })
    }),
    Object.assign({}, axisBase, {
      position: 'top', inverse: true,
      min: wavenumberRange[0], max: wavenumberRange[1], splitNumber: 7,
      axisTick: Object.assign({}, axisBase.axisTick, { length: 21 }),
      minorTick: Object.assign({}, axisBase.minorTick, { splitNumber: 4, length: 11 }),
      axisLabel: Object.assign(txt(30), {
        margin: 5, showMinLabel: false, showMaxLabel: false, rich: topRich,
        formatter: v => { const i = topTickValues.findIndex(t => near(t, v)); return i < 0 ? '' : '{t' + i + '|' + topTickValues[i] + '}'; }
      })
    })
  ],
  yAxis: [
    Object.assign({}, axisBase, {
      position: 'left', min: fluxRange[0], max: fluxRange[1], splitNumber: 5,
      axisTick: Object.assign({}, axisBase.axisTick, { length: 30 }),
      minorTick: Object.assign({}, axisBase.minorTick, { splitNumber: 5, length: 14 }),
      axisLabel: Object.assign(txt(29), { margin: 14, showMinLabel: false, showMaxLabel: false, rich: yRich, formatter: yLabel })
    }),
    Object.assign({}, axisBase, {
      position: 'right', min: fluxRange[0], max: fluxRange[1], splitNumber: 5,
      axisTick: Object.assign({}, axisBase.axisTick, { length: 30 }),
      minorTick: Object.assign({}, axisBase.minorTick, { splitNumber: 5, length: 14 }),
      axisLabel: { show: false }
    })
  ],
  series: [
    { name: seriesNames[0], type: 'line', data: observedSpectrum, color: '#000', lineStyle: { color: '#000', width: 1.1 } },
    { name: seriesNames[1], type: 'line', data: starSpectrum, color: '#1fc01f', lineStyle: { color: '#1fc01f', width: 1 } },
    { name: seriesNames[2], type: 'line', data: modelSpectrum, color: '#ff2020', lineStyle: { color: '#ff2020', width: 1 } },
    { name: seriesNames[3], type: 'line', data: residualSpectrum, color: '#000', lineStyle: { color: '#000', width: 1 } },
    { name: seriesNames[4], type: 'line', data: skySpectrum, color: '#0000ff', lineStyle: { color: '#0a0aff', width: 1.6 } }
  ].map(s => Object.assign(s, { xAxisIndex: 0, yAxisIndex: 0, showSymbol: false, symbol: 'none', silent: true, z: 3 })),
  graphic: [
    { type: 'rect', silent: true, shape: { x: 0, y: 0, width: 10, height: 1020 },
      style: { fill: new echarts.graphic.LinearGradient(0, 0, 1, 0, [
        { offset: 0, color: '#e4e4e4' }, { offset: 0.4, color: '#c8c8c8' }, { offset: 0.8, color: '#e2e2e2' }, { offset: 1, color: '#ffffff' }]) } },
    { type: 'text', x: 962, y: 20, style: { text: 'Wavenumber [cm-1]', align: 'center', verticalAlign: 'middle', font: 'bold 27px ' + FONT, fill: '#000' } },
    { type: 'text', x: 978, y: 1004, style: { text: 'Wavelength [nm]', align: 'center', verticalAlign: 'middle', font: 'bold 27px ' + FONT, fill: '#000' } },
    { type: 'text', x: 26, y: 677, rotation: Math.PI / 2, style: { text: 'Flux [W cm-2 um-1]', align: 'center', verticalAlign: 'middle', font: 'bold 27px ' + FONT, fill: '#000' } },
    { type: 'text', x: 260, y: 136, style: { text: 'Star', align: 'left', verticalAlign: 'middle', font: 'bold 27px ' + FONT, fill: '#5cb848' } },
    { type: 'text', x: 260, y: 170, style: { text: 'Model', align: 'left', verticalAlign: 'middle', font: 'bold 27px ' + FONT, fill: '#e33f2b' } },
    { type: 'text', x: 1697, y: 341, style: { text: 'Mars Order #47', align: 'right', verticalAlign: 'middle', font: 'bold 27px ' + FONT, fill: '#000' } },
    { type: 'text', x: 1697, y: 377, style: { text: 'GIANO/TNG (long slit)', align: 'right', verticalAlign: 'middle', font: 'bold 27px ' + FONT, fill: '#000' } },
    { type: 'text', x: 1697, y: 412, style: { text: 'Commissioning November 2016', align: 'right', verticalAlign: 'middle', font: 'bold 27px ' + FONT, fill: '#000' } },
    { type: 'text', x: 1694, y: 544, style: { text: 'Mars Molecular Residual', align: 'right', verticalAlign: 'middle', font: 'bold 27px ' + FONT, fill: '#000' } },
    { type: 'text', x: 1694, y: 732, style: { text: 'Sky(x10)', align: 'right', verticalAlign: 'middle', font: 'bold 27px ' + FONT, fill: '#3a4ea3' } }
  ]
};

const chart = echarts.init(document.getElementById('chart'), null, { renderer: 'canvas', width: 1741, height: 1020 });
chart.setOption(option);
</script>
</body>
</html>
